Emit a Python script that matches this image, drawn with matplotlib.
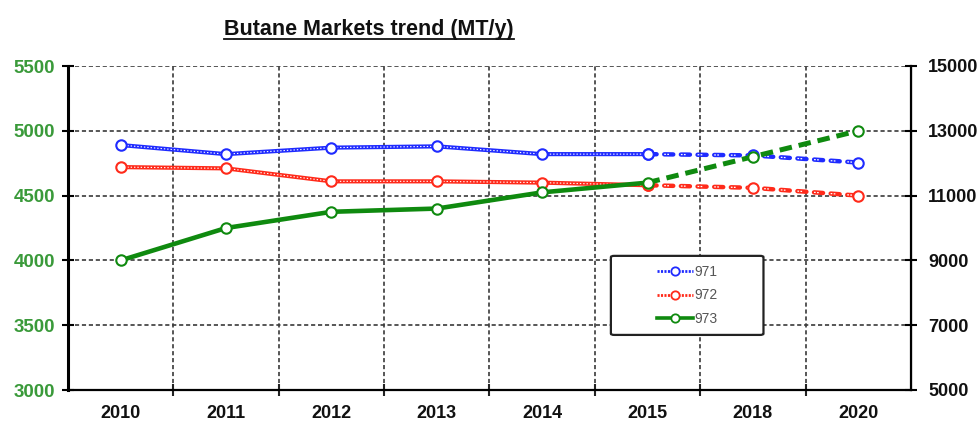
import matplotlib
matplotlib.use("Agg")
import matplotlib.pyplot as plt
from matplotlib.lines import Line2D
from matplotlib.patches import FancyBboxPatch
from matplotlib.ticker import FixedLocator

plt.rcParams["font.family"] = ["Liberation Sans", "DejaVu Sans"]
plt.rcParams["lines.scale_dashes"] = False

# data
years = ["2010", "2011", "2012", "2013", "2014", "2015", "2018", "2020"]
s971 = [4890, 4820, 4870, 4880, 4820, 4820, 4810, 4755]
s972 = [4720, 4710, 4610, 4610, 4600, 4580, 4560, 4500]
s973 = [9000, 10000, 10500, 10600, 11100, 11400, 12200, 13000]   # right axis
n_actual = 6   # 2010..2015 actual, rest forecast (dashed)

C = {"blue": "#1f2bff", "red": "#ff2a1a", "green": "#0f8a0f",
     "lgreen": "#3a9a3a", "grid": "#3a3a3a", "ink": "#111111"}

fig = plt.figure(figsize=(9.79, 4.21), dpi=100)
ax = fig.add_axes([68 / 979, 1 - 390 / 421, 843 / 979, 324 / 421])
ax2 = ax.twinx()
x = list(range(len(years)))
a = n_actual


def dotted_line(axis, xs, ys, color, dashed):
    if dashed:
        axis.plot(xs, ys, color=color, lw=3.2, dashes=(6.5, 5.5), zorder=3,
                  dash_capstyle="round")
        axis.plot(xs, ys, color="white", lw=0.9, dashes=(1.2, 1.0, 1.2, 8.6),
                  zorder=3.1)
    else:
        axis.plot(xs, ys, color=color, lw=3.0, zorder=3)
        axis.plot(xs, ys, color="white", lw=0.8, dashes=(1, 1.4), zorder=3.1)
    axis.plot(xs, ys, ls="none", marker="o", ms=7.5, mfc="white",
              mec=color, mew=1.5, zorder=4)


for ys, col in ((s971, C["blue"]), (s972, C["red"])):
    dotted_line(ax, x[:a], ys[:a], col, False)
    dotted_line(ax, x[a - 1:], ys[a - 1:], col, True)

ax2.plot(x[:a], s973[:a], color=C["green"], lw=3.3, zorder=3)
ax2.plot(x[a - 1:], s973[a - 1:], color=C["green"], lw=3.6,
         dashes=(9, 5), zorder=3)
ax2.plot(x, s973, ls="none", marker="o", ms=7.5, mfc="white",
         mec=C["green"], mew=1.5, zorder=4)

# axes ranges / ticks
ax.set_xlim(-0.5, len(years) - 0.5)
ax.set_ylim(3000, 5500)
ax.set_yticks(range(3000, 5501, 500))
ax2.set_ylim(5000, 15000)
ax2.set_yticks(range(5000, 15001, 2000))
ax.set_xticks(x, years)
ax.xaxis.set_minor_locator(FixedLocator([i + 0.5 for i in range(len(years) - 1)]))

ax.tick_params(axis="x", which="major", length=0, pad=11, labelsize=13,
               colors=C["ink"])
ax.tick_params(axis="x", which="minor", length=8, width=1.5, direction="inout",
               color="#222222")
ax.tick_params(axis="y", length=9, width=1.5, direction="inout", pad=5,
               labelsize=13.5, labelcolor=C["lgreen"])
ax2.tick_params(axis="y", length=9, width=1.5, direction="inout", pad=8,
                labelsize=13, labelcolor=C["ink"])
for lab in ax.get_xticklabels() + ax.get_yticklabels() + ax2.get_yticklabels():
    lab.set_fontweight("bold")

ax.grid(True, axis="y", which="major", color=C["grid"], lw=1.2, dashes=(3, 2))
ax.grid(True, axis="x", which="minor", color=C["grid"], lw=1.2, dashes=(3, 2))
ax.set_axisbelow(True)

for a_ in (ax, ax2):
    a_.spines["top"].set_visible(False)
ax.spines["left"].set_linewidth(2.2)
ax.spines["bottom"].set_linewidth(1.6)
ax2.spines["right"].set_linewidth(1.6)
ax2.spines["left"].set_visible(False)
ax2.spines["bottom"].set_visible(False)

# legend in a hand-drawn rounded box
box = FancyBboxPatch((0.644, 0.17), 0.181, 0.244, transform=ax.transAxes,
                     boxstyle="round,pad=0,rounding_size=0.004",
                     fc="white", ec="#222222", lw=1.6, zorder=5)
ax2.add_patch(box)
handles = [
    Line2D([], [], color=C["blue"], lw=2, ls=(0, (1.5, 1)), marker="o",
           ms=6, mfc="white", mec=C["blue"], mew=1.3),
    Line2D([], [], color=C["red"], lw=2, ls=(0, (1.5, 1)), marker="o",
           ms=6, mfc="white", mec=C["red"], mew=1.3),
    Line2D([], [], color=C["green"], lw=2.6, marker="o",
           ms=6, mfc="white", mec=C["green"], mew=1.3),
]
leg = ax2.legend(handles, ["971", "972", "973"], loc="center",
                 bbox_to_anchor=(0.7345, 0.292), frameon=False,
                 fontsize=10, handlelength=2.6, handletextpad=0.1,
                 labelspacing=0.7, labelcolor="#555555")
leg.set_zorder(6)

# underlined title
title = fig.text(369 / 979, 1 - 35 / 421, "Butane Markets trend (MT/y)",
                 ha="center", va="baseline", fontsize=15.5, fontweight="bold",
                 color=C["ink"])
fig.canvas.draw()
bb = title.get_window_extent().transformed(fig.transFigure.inverted())
fig.add_artist(Line2D([bb.x0, bb.x1], [1 - 38.5 / 421] * 2,
                      transform=fig.transFigure, color=C["ink"], lw=1.3))

fig.savefig("out.png", dpi=100, facecolor="white")
